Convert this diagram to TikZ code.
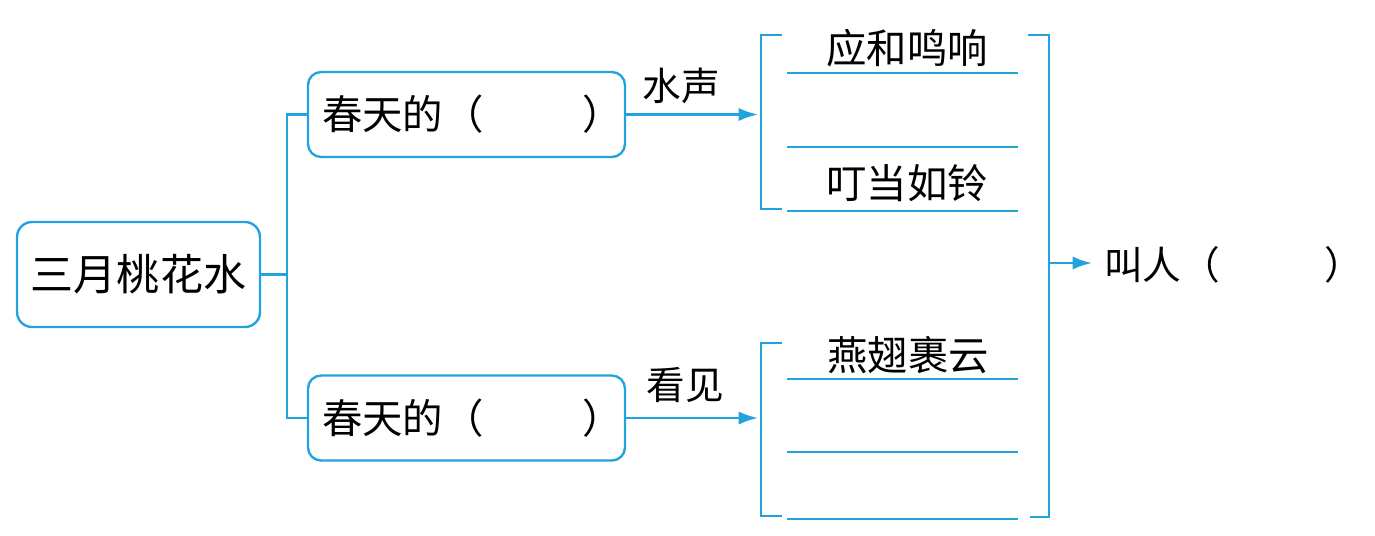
\documentclass[tikz,border=0pt]{standalone}
\usepackage{fontspec}
\newfontfamily\cjk{Noto Sans CJK SC}
\usetikzlibrary{arrows.meta,positioning}
\definecolor{lan}{RGB}{35,163,222}

\begin{document}
\begin{tikzpicture}[x=0.02cm,y=-0.02cm,line width=1.35pt,
    kuang/.style={draw=lan,rounded corners=0.26cm,minimum width=6.34cm,minimum height=1.7cm,inner sep=0pt,font=\cjk\fontsize{23}{25}\selectfont},
    zi/.style={font=\cjk\fontsize{22}{24}\selectfont,inner sep=0pt},
    daan/.style={font=\cjk\fontsize{23}{25}\selectfont,inner sep=0pt},
    jian/.style={draw=lan,-{Latex[length=11pt,width=7.5pt]}},
    xian/.style={draw=lan,line width=1pt}]
    \useasboundingbox (0,0) rectangle (1375,535);
    % left part
    \node[kuang,minimum width=4.86cm,minimum height=2.1cm,rounded corners=0.3cm,font=\cjk\fontsize{24.5}{26}\selectfont] (san) at (138.5,274.5) {三月桃花水};
    \node[kuang] (sheng) at (466.5,114.5) {\hspace{0.3em}春天的（\hspace{2.45em}）};
    \node[kuang] (kan) at (466.5,418) {\hspace{0.3em}春天的（\hspace{2.45em}）};
    \coordinate (fen) at (287,274.5);
    \draw[draw=lan] (san.east) -- (fen);
    \draw[draw=lan] (sheng.west) -| (fen) |- (kan.west);
    % arrows to the brackets
    \coordinate (k1) at (758,116);
    \coordinate (k2) at (758,418);
    \draw[jian] (sheng.east) -- (sheng.east -| k1);
    \draw[jian] (kan.east) -- (kan.east -| k2);
    \node[zi] (shui) at (681,86) {水声};
    \node[zi] (kj) at (685,385) {看见};
    % brackets
    \draw[draw=lan] (782,35) -- (761,35) -- (761,209) -- (782,209);
    \draw[draw=lan] (782,343) -- (761,343) -- (761,516) -- (782,516);
    \draw[draw=lan] (1028,35) -- (1049,35) -- (1049,517) -- (1030,517);
    \foreach \y in {73,147,211,379,452,519}{
        \draw[xian] (787,\y) -- (1018,\y);
    }
    \node[daan] (a1) at (907,48) {应和鸣响};
    \node[daan] (a2) at (907,183) {叮当如铃};
    \node[daan] (a3) at (908,355) {燕翅裹云};
    % right part
    \coordinate (you) at (1049,263);
    \node[zi,anchor=west] (jiao) at (1103,265) {叫人（\hspace{2.7em}）};
    \draw[jian,shorten >=0.22cm] (you) -- (you -| jiao.west);
\end{tikzpicture}
\end{document}
